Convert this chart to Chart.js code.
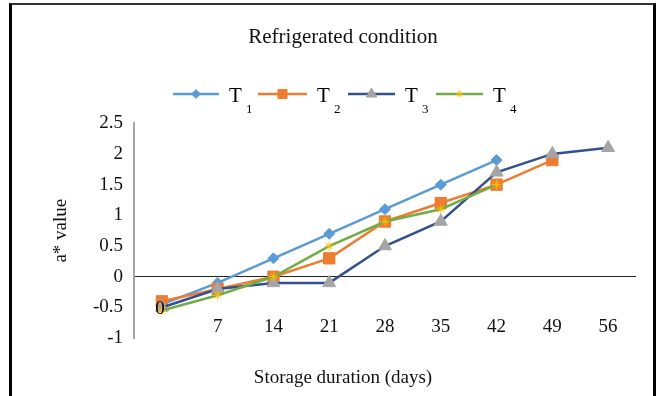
<!DOCTYPE html>
<html>
<head>
<meta charset="utf-8">
<script src="https://cdn.jsdelivr.net/npm/chart.js@4"></script>
<style>
  html, body { margin: 0; padding: 0; background: #fff; }
  #wrap { position: relative; width: 660px; height: 396px; overflow: hidden; }
  #frame { position: absolute; left: 9px; top: 3px; width: 641px; height: 420px;
           border: 3px solid #000; border-top: 2px solid #333; pointer-events: none; }
</style>
</head>
<body>
<div id="wrap">
  <canvas id="chart" width="660" height="396"></canvas>
  <div id="frame"></div>
</div>
<script>
// storage days (x categories)
const days = ['0', '7', '14', '21', '28', '35', '42', '49', '56'];

// a* values
const t1 = [-0.45, -0.1, 0.3, 0.7, 1.1, 1.5, 1.9, null, null];
const t2 = [-0.4, -0.2, 0.0, 0.3, 0.9, 1.2, 1.5, 1.9, null];
const t3 = [-0.5, -0.2, -0.1, -0.1, 0.5, 0.9, 1.7, 2.0, 2.1];
const t4 = [-0.55, -0.3, 0.0, 0.5, 0.9, 1.1, 1.5, null, null];

const seriesNames = ['1', '2', '3', '4'];
const yMin = -1, yMax = 2.5, yStep = 0.5;

const serif = 'Liberation Serif, Times New Roman, serif';

const series = [
  { data: t1, line: '#5b9bd5', fill: '#5b9bd5', stroke: '#5b9bd5', style: 'rectRot', r: 5.5 },
  { data: t2, line: '#ed7d31', fill: '#ed7d31', stroke: '#ed7d31', style: 'rect', r: 8 },
  { data: t3, line: '#34508f', fill: '#a5a5a5', stroke: '#a5a5a5', style: 'triangle', r: 7.5 },
  { data: t4, line: '#70ad47', fill: '#ffc000', stroke: '#ffc000', style: 'star', r: 4.5 }
];

// legend line x ranges, as in the figure
const legendLines = [[173, 219], [258, 307], [348, 395], [436, 483]];
const legendY = 94;

const legendPlugin = {
  id: 'subLegend',
  afterDraw(chart) {
    const ctx = chart.ctx;
    ctx.save();
    series.forEach((s, i) => {
      const [a, b] = legendLines[i];
      ctx.strokeStyle = s.line;
      ctx.lineWidth = 2.5;
      ctx.beginPath();
      ctx.moveTo(a, legendY);
      ctx.lineTo(b, legendY);
      ctx.stroke();
      ctx.fillStyle = s.fill;
      ctx.strokeStyle = s.stroke;
      ctx.lineWidth = 1;
      Chart.helpers.drawPoint(ctx, { pointStyle: s.style, radius: s.r * 0.8, rotation: 0, borderWidth: 1 }, (a + b) / 2, legendY);
      ctx.fillStyle = '#000';
      ctx.textBaseline = 'alphabetic';
      ctx.textAlign = 'left';
      ctx.font = '21px ' + serif;
      ctx.fillText('T', b + 10, legendY + 8);
      ctx.font = '13px ' + serif;
      ctx.fillText(seriesNames[i], b + 27, legendY + 19);
    });
    // the "0" category label sits up over the first markers in the original
    const x = chart.scales.x.getPixelForValue(0);
    const y = chart.scales.y.getPixelForValue(-0.5);
    ctx.font = '19px ' + serif;
    ctx.textAlign = 'center';
    ctx.textBaseline = 'middle';
    ctx.fillText(days[0], x - 2, y + 2);
    ctx.restore();
  }
};

new Chart(document.getElementById('chart'), {
  type: 'line',
  data: {
    labels: days,
    datasets: series.map((s, i) => ({
      label: 'T' + seriesNames[i],
      data: s.data,
      borderColor: s.line,
      borderWidth: 2.5,
      pointStyle: s.style,
      pointRadius: s.r,
      pointBackgroundColor: s.fill,
      pointBorderColor: s.stroke,
      pointBorderWidth: 1,
      tension: 0,
      spanGaps: false,
      order: series.length - i
    }))
  },
  options: {
    responsive: false,
    animation: false,
    layout: { padding: { left: 50, right: 24, top: 0, bottom: 0 } },
    plugins: {
      legend: { display: false },
      tooltip: { enabled: false },
      title: {
        display: true,
        text: 'Refrigerated condition',
        color: '#111',
        font: { family: serif, size: 21, weight: 'normal' },
        padding: { top: 25, bottom: 73 }
      },
      subtitle: {
        display: true,
        position: 'bottom',
        text: 'Storage duration (days)',
        color: '#111',
        font: { family: serif, size: 19, weight: 'normal' },
        padding: { top: 8, bottom: 7 }
      }
    },
    scales: {
      x: {
        offset: true,
        grid: { display: false, drawTicks: false },
        border: { display: false },
        ticks: {
          color: '#111',
          font: { family: serif, size: 19 },
          mirror: true,
          padding: 0,
          maxRotation: 0,
          autoSkip: false,
          callback: (v, i) => (i === 0 ? '' : days[i])
        },
        afterFit: s => { s.height = 20; }
      },
      y: {
        min: yMin,
        max: yMax,
        ticks: {
          stepSize: yStep,
          color: '#111',
          font: { family: serif, size: 19 },
          padding: 11,
          callback: v => String(Number(v.toFixed(1)))
        },
        grid: {
          drawTicks: false,
          color: c => (c.tick && c.tick.value === 0 ? '#222' : 'rgba(0,0,0,0)'),
          lineWidth: 1
        },
        border: { display: true, color: '#a6a6a6', width: 2 },
        title: {
          display: true,
          text: 'a* value',
          color: '#111',
          font: { family: serif, size: 19 },
          padding: { top: 0, bottom: 0 }
        },
        afterFit: s => { s.width = 84; }
      }
    }
  },
  plugins: [legendPlugin]
});
</script>
</body>
</html>
